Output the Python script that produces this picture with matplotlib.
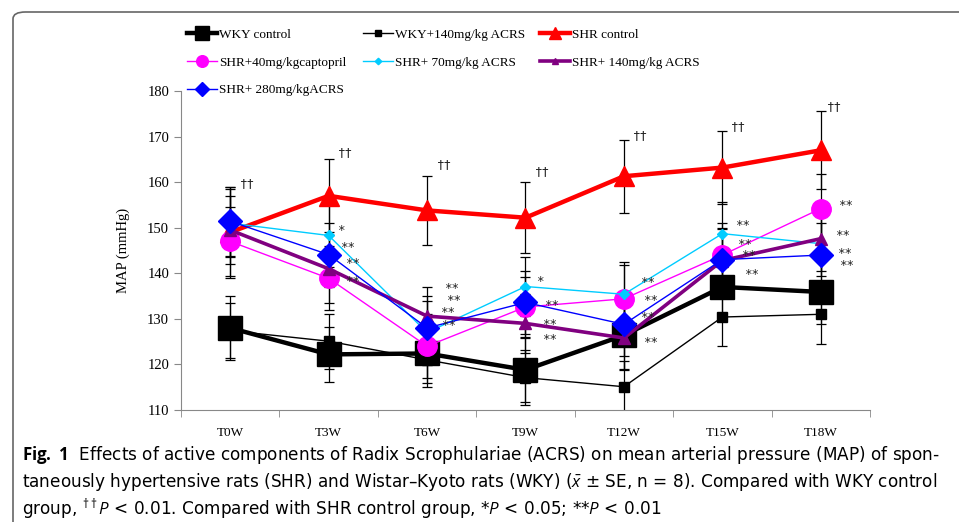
import matplotlib.pyplot as plt
from matplotlib.patches import FancyBboxPatch

# time points
weeks = ['T0W', 'T3W', 'T6W', 'T9W', 'T12W', 'T15W', 'T18W']

# mean MAP (mmHg)
wky_ctrl = [128.0, 122.2, 122.4, 118.8, 126.4, 137.0, 135.9]
wky_140 = [127.4, 125.1, 121.0, 117.1, 115.1, 130.4, 131.0]
shr_ctrl = [149.0, 157.0, 153.8, 152.2, 161.3, 163.2, 167.0]
shr_capt = [147.0, 138.9, 124.0, 132.6, 134.4, 144.0, 154.2]
shr_70 = [151.0, 148.3, 127.0, 137.1, 135.4, 148.7, 146.5]
shr_140 = [149.5, 141.0, 130.6, 129.0, 125.8, 142.8, 147.6]
shr_280 = [151.4, 144.1, 128.0, 133.6, 128.8, 143.0, 144.0]

# standard errors (approx.)
wky_ctrl_se = [7.0, 6.0, 6.5, 7.0, 7.5, 7.0, 7.0]
wky_140_se = [6.0, 6.0, 6.0, 6.0, 5.7, 6.4, 6.5]
shr_ctrl_se = [10.0, 8.0, 7.5, 7.8, 8.0, 8.0, 8.6]
shr_capt_se = [7.5, 7.0, 7.0, 6.5, 7.5, 7.0, 7.5]
shr_70_se = [7.5, 7.0, 7.0, 6.5, 7.0, 7.0, 7.0]
shr_140_se = [7.5, 7.5, 6.5, 6.5, 7.0, 7.0, 7.0]
shr_280_se = [7.5, 7.0, 7.0, 7.0, 7.0, 7.0, 7.0]

labels = ['WKY control', 'WKY+140mg/kg ACRS', 'SHR control',
          'SHR+40mg/kgcaptopril', 'SHR+ 70mg/kg ACRS', 'SHR+ 140mg/kg ACRS',
          'SHR+ 280mg/kgACRS']

# significance marks: (time index, shift right, y value, text)
marks = [
    (0, 0.10, 159.8, '††'),
    (1, 0.10, 166.4, '††'), (1, 0.09, 149.5, '*'), (1, 0.12, 145.6, '**'),
    (1, 0.17, 142.2, '**'), (1, 0.17, 138.2, '**'),
    (2, 0.10, 163.8, '††'), (2, 0.17, 136.6, '**'), (2, 0.19, 134.0, '**'),
    (2, 0.13, 131.3, '**'), (2, 0.14, 128.5, '**'),
    (3, 0.10, 162.3, '††'), (3, 0.11, 138.2, '*'), (3, 0.19, 132.9, '**'),
    (3, 0.17, 128.7, '**'), (3, 0.17, 125.4, '**'),
    (4, 0.09, 170.2, '††'), (4, 0.16, 137.9, '**'), (4, 0.19, 134.0, '**'),
    (4, 0.16, 130.2, '**'), (4, 0.19, 124.8, '**'),
    (5, 0.09, 172.3, '††'), (5, 0.13, 150.4, '**'), (5, 0.15, 146.4, '**'),
    (5, 0.19, 143.8, '**'), (5, 0.22, 139.8, '**'),
    (6, 0.06, 176.6, '††'), (6, 0.18, 154.9, '**'), (6, 0.14, 148.3, '**'),
    (6, 0.16, 144.4, '**'), (6, 0.19, 141.6, '**'),
]

cap_font = 'Open Sans'
plt.rcParams['mathtext.fontset'] = 'custom'
plt.rcParams['mathtext.rm'] = cap_font
plt.rcParams['mathtext.it'] = cap_font + ':italic'
plt.rcParams['mathtext.bf'] = cap_font + ':bold'
serif = ['Liberation Serif', 'DejaVu Serif']

fig = plt.figure(figsize=(9.59, 5.22), dpi=100)
fig.patches.append(FancyBboxPatch((13 / 959, -0.2), 1.2, 1 - 12 / 522 + 0.2,
                                  boxstyle='round,pad=0,rounding_size=0.013',
                                  transform=fig.transFigure, fill=False,
                                  edgecolor='#666666', linewidth=1.2))
ax = fig.add_axes([0.1887, 0.2146, 0.7185, 0.611])

x = list(range(len(weeks)))
series = [
    (wky_ctrl, wky_ctrl_se, 'black', 's', 17, 3.2),
    (wky_140, wky_140_se, 'black', 's', 6.5, 1.0),
    (shr_ctrl, shr_ctrl_se, '#ff0000', '^', 14, 3.2),
    (shr_capt, shr_capt_se, '#ff00ff', 'o', 14, 1.0),
    (shr_70, shr_70_se, '#00ccff', 'D', 5.5, 1.0),
    (shr_140, shr_140_se, '#800080', '^', 8, 2.6),
    (shr_280, shr_280_se, '#0000ff', 'D', 12, 1.0),
]
handles = []
for (vals, se, col, mk, ms, lw), lab in zip(series, labels):
    ax.errorbar(x, vals, yerr=se, fmt='none', ecolor='black', elinewidth=0.9,
                capsize=3.4, capthick=0.9, zorder=2)
    h, = ax.plot(x, vals, color=col, marker=mk, markersize=ms, linewidth=lw,
                 label=lab, zorder=3)
    handles.append(h)

for i, dx, y, t in marks:
    ax.text(i + dx, y, t, fontsize=9, color='#222222', va='center', ha='left',
            family=['DejaVu Sans Mono'], zorder=4)

ax.set_xlim(-0.5, 6.5)
ax.set_ylim(110, 180)
ax.set_yticks(range(110, 181, 10))
ax.set_xticks(x)
ax.set_xticklabels(weeks)
ax.set_xticks([i - 0.5 for i in range(8)], minor=True)
ax.tick_params(axis='x', which='major', length=0, pad=12)
ax.tick_params(axis='x', which='minor', length=5, color='#888888')
ax.tick_params(axis='y', length=5, color='#888888')
for t in ax.get_xticklabels() + ax.get_yticklabels():
    t.set_family(serif)
    t.set_fontsize(10.5)
for t in ax.get_xticklabels():
    t.set_fontsize(9.5)
for s in ['top', 'right']:
    ax.spines[s].set_visible(False)
for s in ['left', 'bottom']:
    ax.spines[s].set_color('#888888')
ax.set_ylabel('MAP (mmHg)', family=serif, fontsize=10.5, labelpad=12)

# legend laid out as three columns, like the original
columns = [[0, 3, 6], [1, 4], [2, 5]]
col_x = [187 / 959, 363 / 959, 540 / 959]
for cols, cx in zip(columns, col_x):
    leg = fig.legend([handles[i] for i in cols], [labels[i] for i in cols],
                     loc='upper left', bbox_to_anchor=(cx, 0.945),
                     borderpad=0, borderaxespad=0, frameon=False,
                     prop={'family': serif, 'size': 9.5},
                     handlelength=2.3, handletextpad=0.15,
                     labelspacing=1.17, markerscale=0.6)

fig.text(0.023, 0.128,
         r'$\bf{Fig.\ 1}$  Effects of active components of Radix Scrophulariae (ACRS) on mean arterial pressure (MAP) of spon-',
         fontsize=12.2, va='center')
fig.text(0.023, 0.077,
         r'taneously hypertensive rats (SHR) and Wistar–Kyoto rats (WKY) ($\bar{x}$ ± SE, n = 8). Compared with WKY control',
         fontsize=12.2, va='center')
fig.text(0.023, 0.025,
         r'group, $^{\dagger\dagger}\it{P}$ < 0.01. Compared with SHR control group, *$\it{P}$ < 0.05; **$\it{P}$ < 0.01',
         fontsize=12.2, va='center')

fig.savefig('out.png', dpi=100)
